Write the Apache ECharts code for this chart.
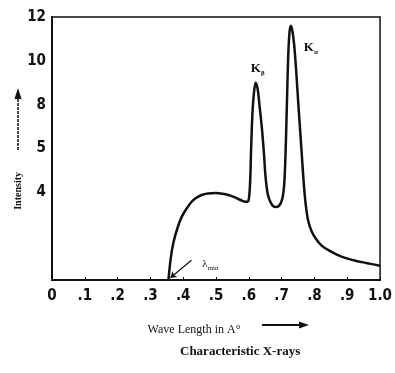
<!DOCTYPE html>
<html>
<head>
<meta charset="utf-8">
<script src="https://cdn.jsdelivr.net/npm/echarts@6/dist/echarts.min.js"></script>
<style>
html, body { margin: 0; padding: 0; background: #fff; }
#main { width: 395px; height: 373px; }
</style>
</head>
<body>
<div id="main"></div>
<script>
// wavelength (A) and intensity
var waveLength = [0.355, 0.362, 0.370, 0.382, 0.395, 0.41, 0.425, 0.44, 0.456, 0.475, 0.498, 0.52, 0.538, 0.556, 0.575, 0.590, 0.599, 0.604, 0.607, 0.611, 0.616, 0.621, 0.627, 0.633, 0.640, 0.646, 0.651, 0.658, 0.668, 0.680, 0.692, 0.702, 0.708, 0.712, 0.716, 0.720, 0.724, 0.728, 0.733, 0.739, 0.745, 0.751, 0.757, 0.762, 0.767, 0.773, 0.781, 0.792, 0.806, 0.822, 0.844, 0.870, 0.896, 0.925, 0.957, 1.0];
var intensity = [0, 1.0, 1.7, 2.35, 2.87, 3.25, 3.56, 3.75, 3.88, 3.95, 3.97, 3.94, 3.88, 3.78, 3.65, 3.57, 3.62, 4.5, 6.0, 7.6, 8.6, 9.0, 8.7, 7.9, 6.9, 5.8, 4.7, 3.9, 3.5, 3.33, 3.38, 3.7, 4.4, 5.8, 8.0, 10.2, 11.3, 11.6, 11.35, 10.6, 9.4, 8.0, 6.7, 5.6, 4.5, 3.5, 2.7, 2.2, 1.85, 1.57, 1.35, 1.15, 1.0, 0.88, 0.78, 0.65];
var yTickLabels = { 12: '12', 10: '10', 8: '8', 6: '5', 4: '4' };
var xTickLabels = ['0', '.1', '.2', '.3', '.4', '.5', '.6', '.7', '.8', '.9', '1.0'];
var lambdaMin = [0.355, 0];

var chart = echarts.init(document.getElementById('main'));

var points = waveLength.map(function (x, i) { return [x, intensity[i]]; });

var option = {
  backgroundColor: '#fff',
  animation: false,
  grid: {
    left: 52, right: 13, top: 17, bottom: 93,
    show: true, borderColor: '#111', borderWidth: 1.5
  },
  xAxis: {
    type: 'value', min: 0, max: 1, interval: 0.1,
    name: 'Wave Length in A°',
    nameLocation: 'middle', nameGap: 44,
    nameTextStyle: { fontFamily: 'Liberation Serif', fontSize: 12, color: '#111', padding: [0, 44, 0, 0] },
    axisLine: { lineStyle: { color: '#111', width: 2 } },
    axisTick: { inside: true, length: 3, lineStyle: { color: '#111' } },
    splitLine: { show: false },
    axisLabel: {
      margin: 9, color: '#111', fontSize: 15, fontWeight: 'bold',
      fontFamily: 'DejaVu Sans Condensed',
      formatter: function (v) { return xTickLabels[Math.round(v * 10)]; }
    }
  },
  yAxis: {
    type: 'value', min: 0, max: 12, interval: 2,
    axisLine: { show: true, lineStyle: { color: '#111', width: 2 } },
    axisTick: { show: false },
    splitLine: { show: false },
    axisLabel: {
      margin: 6, color: '#111', fontSize: 15, fontWeight: 'bold',
      fontFamily: 'DejaVu Sans Condensed',
      formatter: function (v) { return yTickLabels[v] || ''; }
    }
  },
  series: [{
    type: 'line',
    data: points,
    smooth: 0.3,
    showSymbol: false,
    lineStyle: { color: '#111', width: 2.5 },
    markPoint: {
      symbol: 'circle', symbolSize: 0,
      label: {
        show: true, color: '#111', fontFamily: 'Liberation Serif', fontWeight: 'bold', fontSize: 13,
        rich: { s: { fontSize: 7, verticalAlign: 'bottom', fontFamily: 'Liberation Serif', padding: [8, 0, 0, 0] } }
      },
      data: [
        { coord: [0.621, 9.0], value: 'b', label: { formatter: 'K{s|β}', offset: [2, -14] } },
        { coord: [0.728, 11.6], value: 'a', label: { formatter: 'K{s|α}', offset: [20, 22] } },
        { coord: lambdaMin, value: 'l', label: { formatter: 'λ{s|min}', fontSize: 11, fontWeight: 'normal', offset: [42, -16] } }
      ]
    },
    markLine: {
      silent: true, symbol: ['none', 'arrow'], symbolSize: 6,
      lineStyle: { color: '#111', width: 1.2, type: 'solid' },
      label: { show: false },
      data: [[{ coord: [0.425, 0.9] }, { coord: [lambdaMin[0] + 0.006, lambdaMin[1] + 0.1] }]]
    }
  }],
  graphic: [
    {
      type: 'text', left: 13, top: 172, rotation: Math.PI / 2,
      style: { text: 'Intensity', fontFamily: 'Liberation Serif', fontSize: 10, fill: '#111', fontWeight: 'bold' }
    },
    { type: 'line', shape: { x1: 18, y1: 150, x2: 18, y2: 96 }, style: { stroke: '#111', lineWidth: 1.5, lineDash: [3, 1] } },
    { type: 'polygon', shape: { points: [[18, 88], [14.5, 99], [21.5, 99]] }, style: { fill: '#111' } },
    { type: 'line', shape: { x1: 262, y1: 325, x2: 302, y2: 325 }, style: { stroke: '#111', lineWidth: 2 } },
    { type: 'polygon', shape: { points: [[309, 325], [299, 321.5], [299, 328.5]] }, style: { fill: '#111' } },
    {
      type: 'text', left: 180, top: 345,
      style: { text: 'Characteristic X-rays', fontFamily: 'Liberation Serif', fontSize: 13, fontWeight: 'bold', fill: '#111' }
    }
  ]
};

chart.setOption(option);
</script>
</body>
</html>
